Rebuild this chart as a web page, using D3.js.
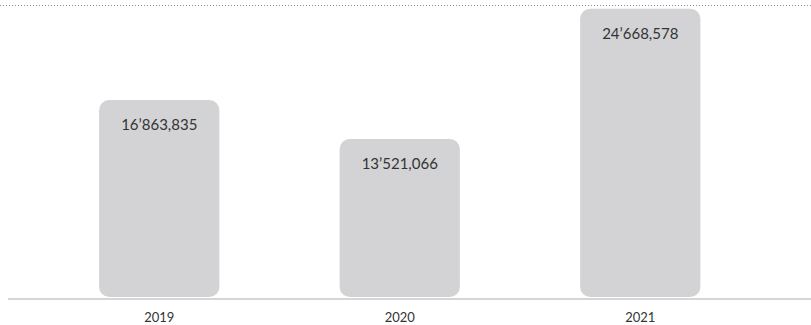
<!DOCTYPE html>
<html>
<head>
<meta charset="utf-8">
<script src="https://cdn.jsdelivr.net/npm/d3@7"></script>
<style>
  html, body { margin: 0; padding: 0; background: #fff; }
  svg { display: block; }
  text { font-family: Lato, "Open Sans", sans-serif; fill: #333; }
</style>
</head>
<body>
<svg id="chart" width="811" height="325"></svg>
<script>
// Yearly totals
const years = ["2019", "2020", "2021"];
const totals = [16863835, 13521066, 24668578];

const W = 811, H = 325;
const svg = d3.select("#chart");

const x = d3.scaleBand()
  .domain(years)
  .range([39, 760.5])
  .paddingInner(0.5)
  .paddingOuter(0.25);

const y = d3.scaleLinear()
  .domain([0, 25000000])
  .range([297, 5]);

// Value format: apostrophe for millions, comma for thousands
function fmt(v) {
  const s = d3.format(",")(v).split(",");
  if (s.length === 3) return s[0] + "’" + s[1] + "," + s[2];
  return s.join(",");
}

// Dotted reference line at the top of the scale
svg.append("line")
  .attr("x1", 0).attr("x2", W)
  .attr("y1", Math.round(y(25000000)) + 0.5).attr("y2", Math.round(y(25000000)) + 0.5)
  .attr("stroke", "#8a8a8a")
  .attr("stroke-width", 1)
  .attr("stroke-dasharray", "1,2");

// Bars
svg.selectAll("rect.bar")
  .data(years)
  .join("rect")
  .attr("class", "bar")
  .attr("x", d => x(d))
  .attr("width", x.bandwidth())
  .attr("y", (d, i) => y(totals[i]))
  .attr("height", (d, i) => y(0) - y(totals[i]))
  .attr("rx", 10).attr("ry", 10)
  .attr("fill", "#d3d3d5");

// Value labels inside the bars
svg.selectAll("text.val")
  .data(years)
  .join("text")
  .attr("class", "val")
  .attr("x", d => x(d) + x.bandwidth() / 2)
  .attr("y", (d, i) => y(totals[i]) + 30)
  .attr("text-anchor", "middle")
  .attr("font-size", 15)
  .text((d, i) => fmt(totals[i]));

// Baseline axis
const axis = svg.append("g").attr("transform", "translate(0,299)");
axis.append("line")
  .attr("x1", 8).attr("x2", W)
  .attr("stroke", "#c8c8c8")
  .attr("stroke-width", 1.5);

axis.selectAll("text.yr")
  .data(years)
  .join("text")
  .attr("class", "yr")
  .attr("x", d => x(d) + x.bandwidth() / 2)
  .attr("y", 23)
  .attr("text-anchor", "middle")
  .attr("font-size", 13)
  .text(d => d);
</script>
</body>
</html>
